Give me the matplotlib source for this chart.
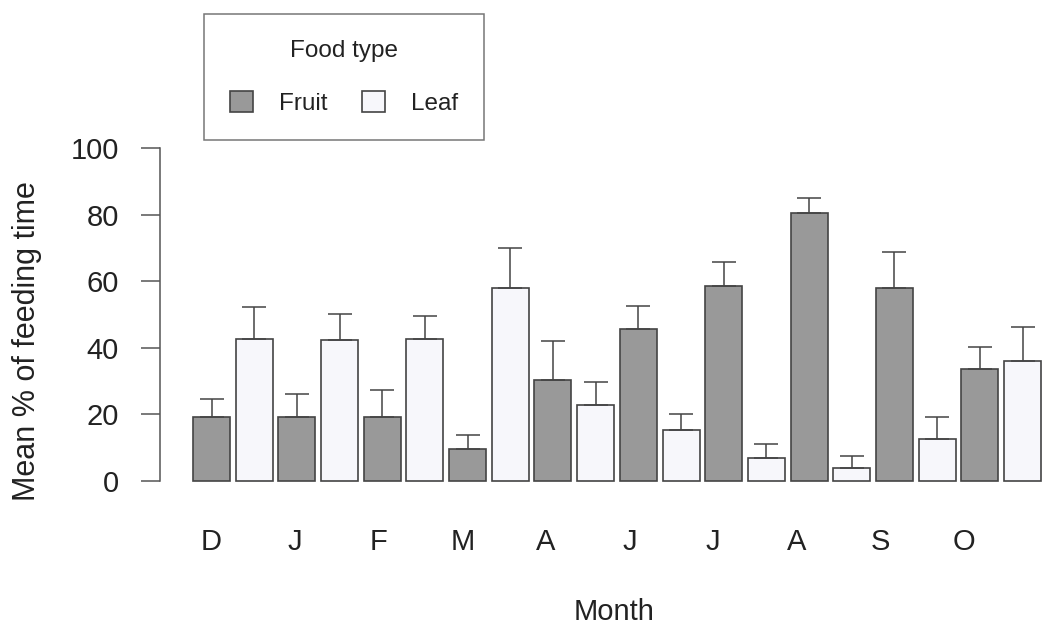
import matplotlib.pyplot as plt
import numpy as np

months = ['D', 'J', 'F', 'M', 'A', 'J', 'J', 'A', 'S', 'O']
fruit = [19.3, 19.1, 19.1, 9.5, 30.4, 45.6, 58.5, 80.4, 58.0, 33.7]
fruit_err = [24.5, 26.1, 27.3, 13.9, 42.0, 52.7, 65.7, 85.0, 68.9, 40.3]
leaf = [42.5, 42.2, 42.5, 58.0, 22.7, 15.2, 7.0, 3.8, 12.6, 36.0]
leaf_err = [52.2, 50.2, 49.6, 69.9, 29.6, 20.1, 11.0, 7.5, 19.1, 46.1]

plt.rcParams['font.family'] = ['Liberation Sans', 'DejaVu Sans']

fig = plt.figure(figsize=(10.46, 6.30), dpi=100)
ax = fig.add_axes([160 / 1046, 1 - 494.3 / 630, 886 / 1046, 359.6 / 630])

n = len(months)
x_fruit = np.arange(n) * 2
x_leaf = x_fruit + 1
w = 0.867
edge = '#444444'

fruit = np.array(fruit)
leaf = np.array(leaf)
ax.bar(x_fruit, fruit, width=w, color='#999999', edgecolor=edge, linewidth=1.2, label='Fruit')
ax.bar(x_leaf, leaf, width=w, color='#f7f7fb', edgecolor=edge, linewidth=1.2, label='Leaf')
ax.errorbar(x_fruit, fruit, yerr=[np.zeros(n), np.array(fruit_err) - fruit],
            fmt='none', ecolor=edge, elinewidth=1.1, capsize=8.6, capthick=1.1)
ax.errorbar(x_leaf, leaf, yerr=[np.zeros(n), np.array(leaf_err) - leaf],
            fmt='none', ecolor=edge, elinewidth=1.1, capsize=8.6, capthick=1.1)

ax.set_xlim(-1.207, 19.55)
ax.set_ylim(-4, 104)

for s in ['top', 'right', 'bottom']:
    ax.spines[s].set_visible(False)
ax.spines['left'].set_bounds(0, 100)
ax.spines['left'].set_color('#555555')
ax.spines['left'].set_linewidth(1.1)

ax.set_yticks([0, 20, 40, 60, 80, 100])
ax.tick_params(axis='y', length=13.7, width=1.1, color='#555555', pad=15.8,
               labelsize=21, labelcolor='#222222')
ax.set_xticks(np.arange(n) * 1.959)
ax.set_xticklabels(months)
ax.tick_params(axis='x', length=0, pad=24, labelsize=21, labelcolor='#222222')

ax.set_xlabel('Month', fontsize=21, color='#222222')
ax.xaxis.set_label_coords(0.5124, -0.327)
ax.xaxis.label.set_va('center')
ax.set_ylabel('Mean % of feeding time', fontsize=22, color='#222222')
ax.yaxis.set_label_coords(-0.150, 0.426)
ax.yaxis.label.set_va('center')

leg = ax.legend(ncol=2, title='Food type', fontsize=17.5, title_fontsize=17.5,
                loc='upper left', bbox_to_anchor=(204 / 1046, 1 - 14 / 630),
                bbox_transform=fig.transFigure, fancybox=False, frameon=True,
                edgecolor='#555555', handlelength=0.95, handleheight=0.95,
                handletextpad=1.07, columnspacing=1.44, borderpad=1.05,
                labelspacing=1.2, borderaxespad=0)
leg.get_frame().set_linewidth(1.1)
for t in leg.get_texts():
    t.set_color('#222222')
leg.get_title().set_color('#222222')

plt.savefig('out.png', dpi=100)
